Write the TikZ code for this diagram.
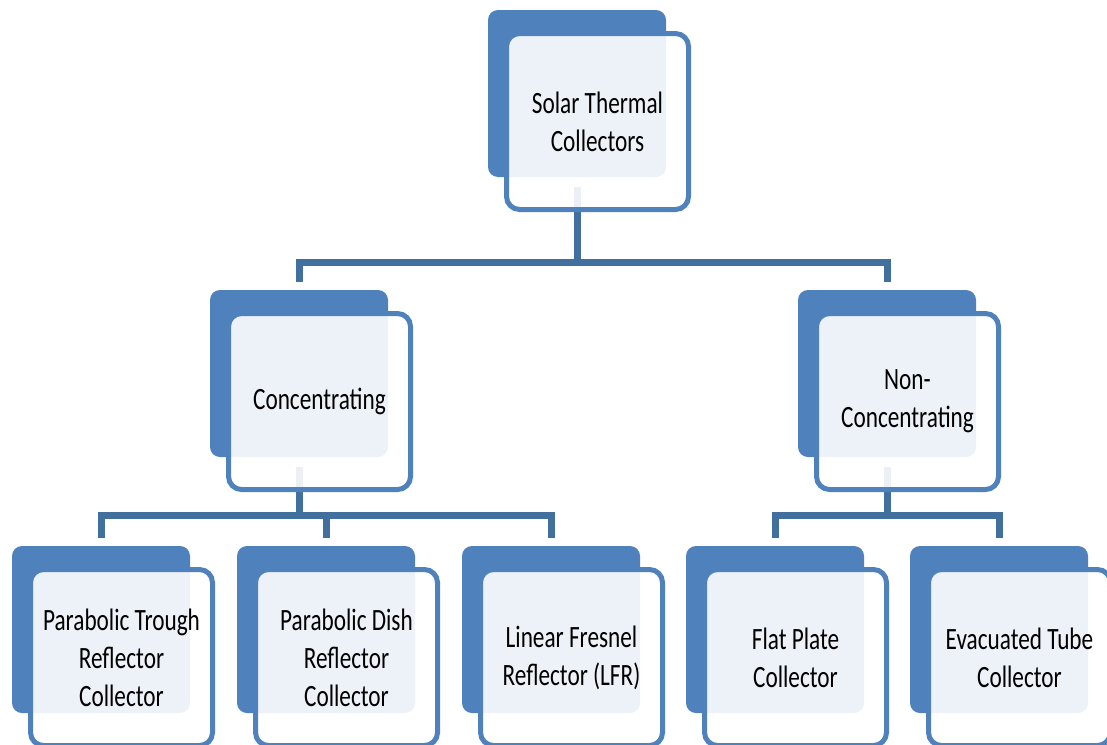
\documentclass[tikz,border=0pt]{standalone}
\usepackage{fontspec}
\setmainfont[FakeStretch=0.75]{Carlito}
\definecolor{backblue}{HTML}{4F81BD}
\definecolor{lineblue}{HTML}{41709F}

\begin{document}
\begin{tikzpicture}[x=1pt,y=-1pt,
		back/.style={fill=backblue, rounded corners=10pt, minimum width=178pt, minimum height=167pt, inner sep=0pt},
		front/.style={draw=backblue, line width=5pt, fill=white, fill opacity=0.9, text opacity=1, rounded corners=13pt,
			minimum width=182pt, minimum height=176pt, inner sep=0pt, align=center, font=\fontsize{31}{38}\selectfont},
		conn/.style={draw=lineblue, line width=7pt}]
			\useasboundingbox (0,0) rectangle (1107,744);
			\clip (0,0) rectangle (1107,744);
			% back boxes
			\node[back] (stcB) at (577,93.5) {};
			\node[back] (conB) at (299,373.5) {};
			\node[back] (nonB) at (887,373.5) {};
			\node[back] (ptrB) at (101,629.5) {};
			\node[back] (pdsB) at (326,629.5) {};
			\node[back] (lfrB) at (551,629.5) {};
			\node[back] (fpcB) at (775,629.5) {};
			\node[back] (etcB) at (999,629.5) {};
			% connectors
			\coordinate (j1) at (577,262);
			\coordinate (j2) at (299,515);
			\coordinate (j3) at (887,515);
			\draw[conn] ([yshift=-10pt]stcB.south) -- (j1);
			\draw[conn] ([yshift=8pt]conB.north) |- (j1) -| ([yshift=8pt]nonB.north);
			\draw[conn] ([yshift=-10pt]conB.south) -- (j2);
			\draw[conn] ([yshift=8pt]ptrB.north) |- (j2) -| ([yshift=8pt]lfrB.north);
			\draw[conn] ([yshift=8pt]pdsB.north) -- (pdsB.north |- j2);
			\draw[conn] ([yshift=-10pt]nonB.south) -- (j3);
			\draw[conn] ([yshift=8pt]fpcB.north) |- (j3) -| ([yshift=8pt]etcB.north);
			% front boxes
			\node[front] (stc) at (597.5,121.5) {Solar Thermal\\Collectors};
			\node[front] (con) at (319.5,401.5) {Concentrating};
			\node[front] (non) at (907.5,401.5) {Non-\\Concentrating};
			\node[front] (ptr) at (121.5,657.5) {Parabolic Trough\\Reflector\\Collector};
			\node[front] (pds) at (346.5,657.5) {Parabolic Dish\\Reflector\\Collector};
			\node[front] (lfr) at (571.5,657.5) {Linear Fresnel\\Reflector (LFR)};
			\node[front] (fpc) at (795.5,657.5) {Flat Plate\\Collector};
			\node[front] (etc) at (1019.5,657.5) {Evacuated Tube\\Collector};
		\end{tikzpicture}
\end{document}
